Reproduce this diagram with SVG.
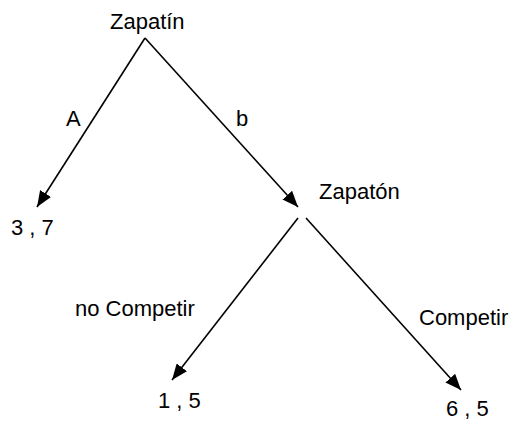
<svg xmlns="http://www.w3.org/2000/svg" width="511" height="421" viewBox="0 0 511 421">
<defs>
<marker id="ah" viewBox="0 0 10 10" refX="10" refY="5" markerWidth="16" markerHeight="13" markerUnits="userSpaceOnUse" orient="auto" preserveAspectRatio="none">
<path d="M0,0 L10,5 L0,10 Z" fill="#000"/>
</marker>
<style>
text{font-family:"Liberation Sans",Arial,sans-serif;font-size:22px;fill:#000}
.e{stroke:#000;stroke-width:1.6;fill:none;marker-end:url(#ah)}
</style>
</defs>
<rect width="511" height="421" fill="#fff"/>
<g id="connectors">
<line class="e" x1="145" y1="38" x2="37" y2="207"/>
<line class="e" x1="145" y1="38" x2="298" y2="207"/>
<line class="e" x1="298" y1="218" x2="172" y2="380"/>
<line class="e" x1="306" y1="218" x2="461" y2="390"/>
</g>
<g id="n-zapatin"><text x="110" y="29">Zapatín</text></g>
<g id="l-a"><text x="66" y="126">A</text></g>
<g id="l-b"><text x="236" y="126">b</text></g>
<g id="n-37"><text x="11" y="235">3 , 7</text></g>
<g id="n-zapaton"><text x="319" y="199">Zapatón</text></g>
<g id="l-nocomp"><text x="75" y="316">no Competir</text></g>
<g id="l-comp"><text x="419" y="325">Competir</text></g>
<g id="n-15"><text x="158" y="408">1 , 5</text></g>
<g id="n-65"><text x="446" y="416">6 , 5</text></g>
</svg>
